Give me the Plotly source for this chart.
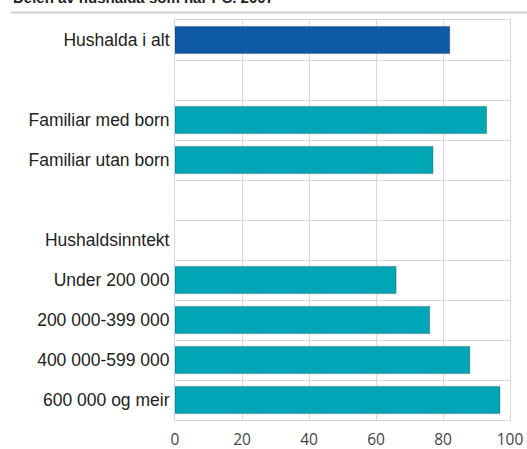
import plotly.graph_objects as go

categories = ["Hushalda i alt", " ", "Familiar med born", "Familiar utan born", "  ",
              "Hushaldsinntekt", "Under 200 000", "200 000-399 000", "400 000-599 000", "600 000 og meir"]
values = [82, None, 93, 77, None, None, 66, 76, 88, 97]
bar_colors = ["#0f5aa6", "#0f5aa6", "#00a6b6", "#00a6b6", "#00a6b6",
              "#00a6b6", "#00a6b6", "#00a6b6", "#00a6b6", "#00a6b6"]
x_ticks = [0, 20, 40, 60, 80, 100]
title_text = "Delen av hushalda som har PC. 2007"

fig = go.Figure(go.Bar(
    x=values, y=categories, orientation="h",
    marker=dict(color=bar_colors, line=dict(color="rgba(0,0,0,0.25)", width=1)),
    hoverinfo="x+y",
))

grid = "#d8d8e2"
fig.update_layout(
    template="none",
    width=527, height=449,
    margin=dict(l=175, r=17, t=20, b=29, pad=0),
    paper_bgcolor="white", plot_bgcolor="white",
    bargap=0.32, showlegend=False,
    font=dict(family="Liberation Sans, Arial, sans-serif", size=13, color="#222"),
    xaxis=dict(range=[0, 100], tickvals=x_ticks, showgrid=True, gridcolor=grid, gridwidth=1,
               zeroline=False, showline=True, linecolor=grid, mirror=True, automargin=False,
               ticklabelstandoff=5,
               tickfont=dict(family="Open Sans, sans-serif", size=15.5, color="#444"), ticks=""),
    yaxis=dict(categoryorder="array", categoryarray=categories, autorange="reversed",
               tickson="boundaries", showgrid=True, gridcolor=grid, gridwidth=1, automargin=False,
               showline=True, linecolor=grid, mirror=True, ticks="", ticklen=0,
               ticklabelstandoff=1,
               tickfont=dict(size=17.5, color="#222")),
    shapes=[dict(type="line", xref="paper", yref="paper", x0=-0.49, x1=1.06,
                 y0=1.019, y1=1.019, line=dict(color="#cfcfcf", width=2))],
    annotations=[dict(text="<b>" + title_text + "</b>", xref="paper", yref="paper",
                      x=-0.49, y=1.03, xanchor="left", yanchor="bottom", showarrow=False,
                      font=dict(size=15, color="#222"))],
)
fig.write_html("out.html", config={"displayModeBar": False, "responsive": False},
               default_width="527px", default_height="449px",
               post_script="document.body.style.margin='0';document.body.style.overflow='hidden';")
